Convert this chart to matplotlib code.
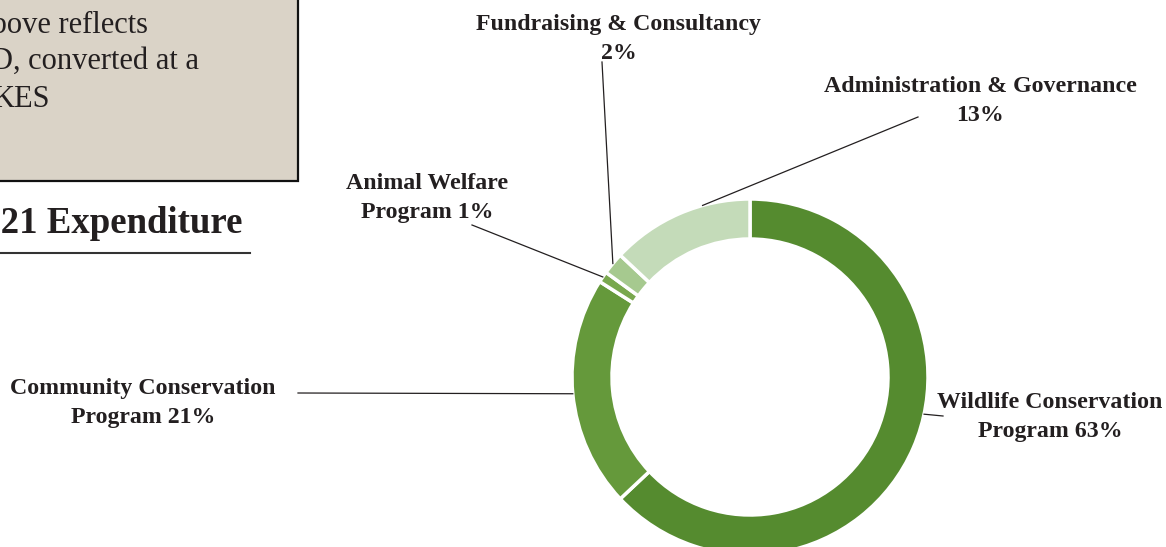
import numpy as np
import matplotlib
matplotlib.use("Agg")
import matplotlib.pyplot as plt
from matplotlib.patches import Rectangle

# expenditure shares (%), clockwise from 12 o'clock
categories = ["Wildlife Conservation\nProgram", "Community Conservation\nProgram",
              "Animal Welfare\nProgram", "Fundraising & Consultancy\n",
              "Administration & Governance\n"]
shares = [63, 21, 1, 2, 13]
colors = ["#558B2F", "#65993B", "#79A84E", "#A6C98F", "#C4DBB9"]

W, H = 1166, 547
TXT = "#231F20"
FONT = "Liberation Serif"


def px(x, y):
    # pixel coords (origin top-left) -> data coords
    return x, H - y


fig = plt.figure(figsize=(W / 100, H / 100), dpi=100)
ax = fig.add_axes([0, 0, 1, 1])

# donut
cx, cy = px(750, 377)
R = 178
ax.pie(shares, startangle=90, counterclock=False, colors=colors,
       center=(cx, cy), radius=R,
       wedgeprops=dict(width=40, edgecolor="white", linewidth=2.5))

# label layout: text centre, where the leader starts, where along the wedge it lands
label_pos = [(1050, 417), (143, 403), (427, 198), (619, 39), (980, 101)]
leader_start = [(943, 416), (298, 393), (472, 225), (602, 62), (918, 117)]
leader_frac = [0.45, 0.5, 0.5, 0.5, 0.67]

start = 90.0
for name, val, (lx, ly), (sx, sy), f in zip(categories, shares, label_pos,
                                            leader_start, leader_frac):
    span = val * 3.6
    ang = np.deg2rad(start - span * f)
    start -= span
    ex, ey = cx + R * np.cos(ang), cy + R * np.sin(ang)
    ax.plot([px(sx, sy)[0], ex], [px(sx, sy)[1], ey], color="#231F20", lw=0.9)
    if name.endswith("\n"):
        label = f"{name}{val}%"
    else:
        label = f"{name} {val}%"
    ax.text(*px(lx, ly), label, ha="center", va="center", ma="center",
            fontsize=17.2, fontweight="bold", family=FONT, color=TXT,
            linespacing=1.45)

# cropped note box from the page
ax.add_patch(Rectangle(px(-10, 181), 308, 200, facecolor="#DAD3C7",
                       edgecolor="#111111", lw=1.6))
note_lines = [("above reflects", 148, 33), ("USD, converted at a", 199, 69),
              ("KES", 50, 107)]
for t, rx, by in note_lines:
    ax.text(*px(rx, by), t, ha="right", va="baseline", fontsize=22,
            family=FONT, color=TXT)

ax.text(*px(242, 233), "2021 Expenditure", ha="right", va="baseline",
        fontsize=26.5, fontweight="bold", family=FONT, color=TXT)
ax.plot([0, 250], [H - 253, H - 253], color="#333333", lw=1.5)

ax.set_xlim(0, W)
ax.set_ylim(0, H)
ax.set_aspect("auto")
ax.axis("off")

fig.savefig("out.png", dpi=100, facecolor="white")
